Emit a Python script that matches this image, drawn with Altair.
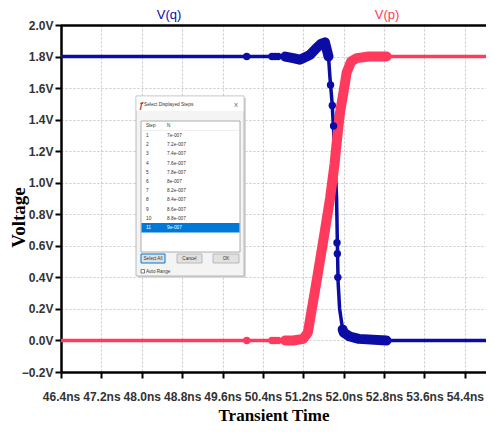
import altair as alt
import pandas as pd

# ---------------- data ----------------
x_ticks = [46.4, 47.2, 48.0, 48.8, 49.6, 50.4, 51.2, 52.0, 52.8, 53.6, 54.4]
y_ticks = [-0.2, 0.0, 0.2, 0.4, 0.6, 0.8, 1.0, 1.2, 1.4, 1.6, 1.8, 2.0]
x_range = [46.4, 54.82]
y_range = [-0.2, 2.0]

# V(q)
q_t = [46.4, 50.08, 50.6, 50.84, 51.0, 51.13, 51.33, 51.45, 51.55, 51.63, 51.70,
       51.73, 51.77, 51.80, 51.86, 51.875, 51.89, 51.92, 51.98, 52.0, 52.12, 52.3,
       52.85, 55.0]
q_v = [1.80, 1.80, 1.80, 1.80, 1.79, 1.78, 1.81, 1.85, 1.88, 1.89, 1.80,
       1.66, 1.51, 1.34, 0.90, 0.62, 0.37, 0.20, 0.07, 0.05, 0.025, 0.01,
       0.0, 0.0]
# V(p)
p_t = [46.4, 50.08, 50.6, 50.84, 51.0, 51.2, 51.29, 51.45, 51.6, 51.73, 51.82,
       51.87, 51.93, 52.0, 52.06, 52.15, 52.26, 52.5, 52.85, 55.0]
p_v = [0.0, 0.0, 0.0, 0.0, 0.0, 0.01, 0.05, 0.35, 0.64, 0.90, 1.12,
       1.28, 1.45, 1.58, 1.70, 1.77, 1.79, 1.80, 1.80, 1.80]

# isolated data-point markers
q_mark_t = [50.08, 50.58, 50.64, 50.70, 51.74, 51.775, 51.80, 51.868, 51.875, 51.885]
q_mark_v = [1.80, 1.80, 1.80, 1.80, 1.62, 1.49, 1.36, 0.62, 0.55, 0.40]
p_mark_t = [50.08, 50.58, 50.64, 50.70]
p_mark_v = [0.0, 0.0, 0.0, 0.0]

# time windows where the data points are so dense they form a thick band
q_dense = [[50.84, 51.70], [51.98, 52.85]]
p_dense = [[50.84, 52.85]]

# inset dialog content
dlg_steps = ["1", "2", "3", "4", "5", "6", "7", "8", "9", "10", "11"]
dlg_values = ["7e-007", "7.2e-007", "7.4e-007", "7.6e-007", "7.8e-007", "8e-007",
              "8.2e-007", "8.4e-007", "8.6e-007", "8.8e-007", "9e-007"]

BLUE = "#0b0ba5"
RED = "#ff3a5c"
SANS = "Liberation Sans, Arial, sans-serif"
SERIF = "Liberation Serif, Times New Roman, serif"

# ---------------- tables ----------------
curve = pd.concat([
    pd.DataFrame({"t": q_t, "v": q_v, "s": "q"}),
    pd.DataFrame({"t": p_t, "v": p_v, "s": "p"}),
], ignore_index=True)

marks = pd.concat([
    pd.DataFrame({"t": q_mark_t, "v": q_mark_v, "s": "q"}),
    pd.DataFrame({"t": p_mark_t, "v": p_mark_v, "s": "p"}),
], ignore_index=True)

dense_rows = []
for name, tt, vv, wins in [("q", q_t, q_v, q_dense), ("p", p_t, p_v, p_dense)]:
    for k, (a, b) in enumerate(wins):
        for t, v in zip(tt, vv):
            if a <= t <= b:
                dense_rows.append({"t": t, "v": v, "s": name, "seg": f"{name}{k}"})
dense = pd.DataFrame(dense_rows)

xs = alt.Scale(domain=x_range, nice=False, zero=False)
ys = alt.Scale(domain=y_range, nice=False, zero=False)
col = alt.Scale(domain=["q", "p"], range=[BLUE, RED])

X = alt.X("t:Q", scale=xs, axis=alt.Axis(
    values=x_ticks, labelExpr="format(datum.value, '.1f') + 'ns'",
    labelOverlap=False, labelFlush=False, labelBound=False,
    title="Transient Time", titleFont=SERIF, titleFontSize=17, titleFontWeight="bold",
    titleColor="#000", titleY=48, titleBaseline="alphabetic",
    labelFont=SANS, labelFontSize=12, labelFontWeight="bold", labelColor="#333",
    labelPadding=13, tickSize=6, tickWidth=2, tickColor="#000",
    domainColor="#000", domainWidth=2.5,
    grid=True, gridColor="#c8c8c8", gridDash=[2, 2], gridWidth=1))
Y = alt.Y("v:Q", scale=ys, axis=alt.Axis(
    values=y_ticks, labelExpr="format(datum.value, '.1f') + 'V'",
    labelOverlap=False, labelFlush=False, labelBound=False,
    title="Voltage", titleFont=SERIF, titleFontSize=19, titleFontWeight="bold",
    titleColor="#000", titleX=-43, titleY=192, titleBaseline="middle", titleAngle=270,
    labelFont=SANS, labelFontSize=12, labelFontWeight="bold", labelColor="#333",
    labelPadding=2, tickSize=6, tickWidth=2, tickColor="#000",
    domainColor="#000", domainWidth=2.5,
    grid=True, gridColor="#c8c8c8", gridDash=[2, 2], gridWidth=1))
C = alt.Color("s:N", scale=col, legend=None)

one = pd.DataFrame({"a": [0]})

lines = alt.Chart(curve).mark_line(strokeWidth=3.5).encode(
    x=X, y=Y, color=C, detail="s:N")
thick = alt.Chart(dense).mark_line(strokeWidth=10, strokeCap="round", strokeJoin="round").encode(
    x=X, y=Y, color=C, detail="seg:N")
pts = alt.Chart(marks).mark_circle(size=55, opacity=1).encode(x=X, y=Y, color=C)

top_rule = alt.Chart(one).mark_rule(color="#000", strokeWidth=2.5).encode(
    x=alt.value(0), x2=alt.value(425), y=alt.value(0.5))

lab_q = alt.Chart(one).mark_text(text="V(q)", font=SANS, fontSize=13, color=BLUE,
                                 align="center", baseline="alphabetic").encode(
    x=alt.value(108), y=alt.value(-6))
lab_p = alt.Chart(one).mark_text(text="V(p)", font=SANS, fontSize=13, color=RED,
                                 align="center", baseline="alphabetic").encode(
    x=alt.value(326), y=alt.value(-6))


def box(x1, y1, x2, y2, fill, stroke, sw=0.8):
    return alt.Chart(one).mark_rect(fill=fill, stroke=stroke, strokeWidth=sw).encode(
        x=alt.value(x1), x2=alt.value(x2), y=alt.value(y1), y2=alt.value(y2))


def txt(s, x, y, size=4.8, color="#333", align="left", weight="normal"):
    return alt.Chart(one).mark_text(text=s, fontSize=size, color=color, align=align,
                                    baseline="middle", font=SANS,
                                    fontWeight=weight).encode(x=alt.value(x), y=alt.value(y))


dialog = [
    box(77, 73, 185, 253, "#d9d9d9", "#d9d9d9", 0),          # shadow
    box(75, 71, 183, 251, "#f4f4f4", "#a8a8a8"),             # frame
    box(75.5, 71.5, 182.5, 86, "#ffffff", "#ffffff", 0),     # title bar
    txt("ƒ", 78, 79.5, size=9, color="#c0392b", weight="bold"),
    txt("Select Displayed Steps", 83, 80, size=4.8),
    txt("X", 175, 80, size=6, color="#555", align="center"),
    box(80, 96, 179, 227, "#ffffff", "#9a9a9a"),             # list box
    box(80.5, 105, 178.5, 105.5, "#e0e0e0", "#e0e0e0", 0),
    txt("Step", 85, 101, size=4.6), txt("N", 106, 101, size=4.6),
    box(80.5, 198, 178.5, 207.5, "#0078d7", "#0078d7", 0),   # selected row
]
for i, (s, v) in enumerate(zip(dlg_steps, dlg_values)):
    c = "#ffffff" if i == len(dlg_steps) - 1 else "#333333"
    dialog.append(txt(s, 85, 111 + 9.2 * i, size=4.8, color=c))
    dialog.append(txt(v, 106, 111 + 9.2 * i, size=4.8, color=c))
dialog += [
    box(80, 229, 104, 238, "#e1e1e1", "#0078d7", 1),
    box(116, 229, 141, 238, "#e1e1e1", "#adadad"),
    box(152, 229, 178, 238, "#e1e1e1", "#adadad"),
    txt("Select All", 92, 233.5, size=4.6, align="center"),
    txt("Cancel", 128.5, 233.5, size=4.6, align="center"),
    txt("OK", 165, 233.5, size=4.6, align="center"),
    box(80, 244.5, 83.5, 248, "#ffffff", "#333333", 0.6),
    txt("Auto Range", 85, 246.5, size=4.6),
]

chart = alt.layer(lines, thick, pts, top_rule, lab_q, lab_p, *dialog).properties(
    width=425, height=347,
    autosize=alt.AutoSizeParams(type="none"),
    padding={"left": 53, "top": 17, "right": 0, "bottom": 52},
).configure_view(stroke=None).configure_axis(labelOverlap=False).configure(background="#ffffff")

chart.save("out.html", embed_options={"renderer": "svg", "actions": False})
